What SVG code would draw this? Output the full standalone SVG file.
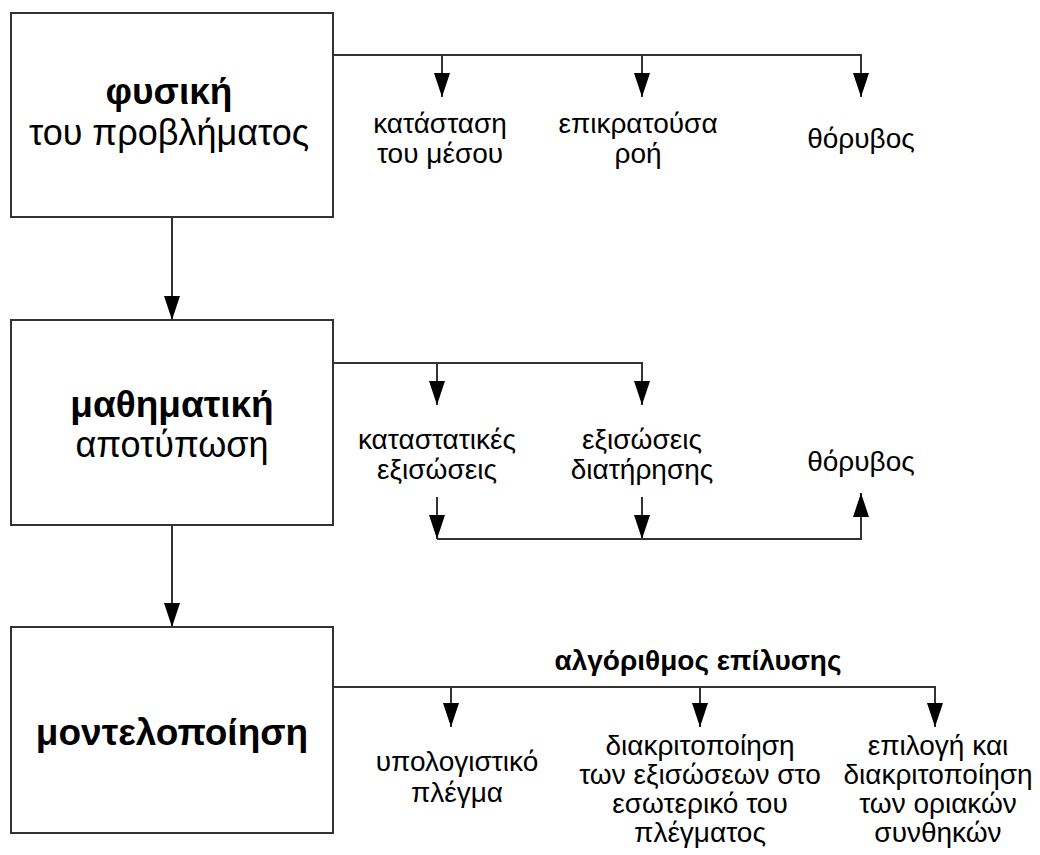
<svg xmlns="http://www.w3.org/2000/svg" width="1040" height="855" viewBox="0 0 1040 855">
  <defs>
    <style>
      .box { fill: #ffffff; stroke: #333333; stroke-width: 2; }
      .wire { fill: none; stroke: #333333; stroke-width: 2; }
      .main { font-family: "Liberation Sans", Arial, sans-serif; font-size: 36px; fill: #000000; text-anchor: middle; }
      .main.b { font-size: 37px; font-weight: bold; }
      .lbl { font-family: "Liberation Sans", Arial, sans-serif; font-size: 28px; fill: #000000; text-anchor: middle; }
      .lbl.b { font-weight: bold; }
    </style>
    <marker id="tri" viewBox="0 0 24 16" refX="24" refY="8" markerWidth="24" markerHeight="16" markerUnits="userSpaceOnUse" orient="auto">
      <path d="M0,0 L24,8 L0,16 Z" fill="#000000"/>
    </marker>
  </defs>

  <rect width="1040" height="855" fill="#ffffff"/>

  <!-- connectors -->
  <g id="connectors">
    <!-- stage to stage -->
    <line class="wire" x1="172" y1="217" x2="172" y2="320" marker-end="url(#tri)"/>
    <line class="wire" x1="172" y1="525" x2="172" y2="627" marker-end="url(#tri)"/>

    <!-- physics branches -->
    <polyline class="wire" points="333,55 861,55 861,97" marker-end="url(#tri)"/>
    <line class="wire" x1="442" y1="55" x2="442" y2="97" marker-end="url(#tri)"/>
    <line class="wire" x1="642" y1="55" x2="642" y2="97" marker-end="url(#tri)"/>

    <!-- mathematical model branches -->
    <polyline class="wire" points="333,363 642,363 642,405" marker-end="url(#tri)"/>
    <line class="wire" x1="437" y1="363" x2="437" y2="405" marker-end="url(#tri)"/>
    <line class="wire" x1="437" y1="497" x2="437" y2="539" marker-end="url(#tri)"/>
    <line class="wire" x1="642" y1="497" x2="642" y2="539" marker-end="url(#tri)"/>
    <polyline class="wire" points="437,539 861,539 861,493" marker-end="url(#tri)"/>

    <!-- modelling branches -->
    <polyline class="wire" points="333,687 935,687 935,727" marker-end="url(#tri)"/>
    <line class="wire" x1="451" y1="687" x2="451" y2="727" marker-end="url(#tri)"/>
    <line class="wire" x1="700" y1="687" x2="700" y2="727" marker-end="url(#tri)"/>
  </g>

  <!-- stage boxes -->
  <g id="physics">
    <rect class="box" x="11" y="13" width="322" height="204"/>
    <text class="main b" x="169" y="104">φυσική</text>
    <text class="main" x="169" y="145">του προβλήματος</text>
  </g>
  <g id="math-model">
    <rect class="box" x="11" y="320" width="322" height="205"/>
    <text class="main b" x="172" y="417">μαθηματική</text>
    <text class="main" x="172" y="457">αποτύπωση</text>
  </g>
  <g id="modelling">
    <rect class="box" x="11" y="627" width="322" height="206"/>
    <text class="main b" x="172" y="745">μοντελοποίηση</text>
  </g>

  <!-- physics items -->
  <g id="medium-state">
    <text class="lbl" x="440" y="133">κατάσταση</text>
    <text class="lbl" x="440" y="163">του μέσου</text>
  </g>
  <g id="main-flow">
    <text class="lbl" x="638" y="133">επικρατούσα</text>
    <text class="lbl" x="638" y="163">ροή</text>
  </g>
  <g id="noise-1">
    <text class="lbl" x="861" y="148">θόρυβος</text>
  </g>

  <!-- mathematical model items -->
  <g id="constitutive">
    <text class="lbl" x="437" y="449">καταστατικές</text>
    <text class="lbl" x="437" y="479">εξισώσεις</text>
  </g>
  <g id="conservation">
    <text class="lbl" x="642" y="449">εξισώσεις</text>
    <text class="lbl" x="642" y="479">διατήρησης</text>
  </g>
  <g id="noise-2">
    <text class="lbl" x="861" y="471">θόρυβος</text>
  </g>

  <!-- modelling items -->
  <g id="solver">
    <text class="lbl b" x="698" y="670">αλγόριθμος επίλυσης</text>
  </g>
  <g id="grid">
    <text class="lbl" x="457" y="771">υπολογιστικό</text>
    <text class="lbl" x="457" y="802">πλέγμα</text>
  </g>
  <g id="interior-discretisation">
    <text class="lbl" x="700" y="755">διακριτοποίηση</text>
    <text class="lbl" x="700" y="784">των εξισώσεων στο</text>
    <text class="lbl" x="700" y="813">εσωτερικό του</text>
    <text class="lbl" x="700" y="842">πλέγματος</text>
  </g>
  <g id="boundary-conditions">
    <text class="lbl" x="938" y="755">επιλογή και</text>
    <text class="lbl" x="938" y="784">διακριτοποίηση</text>
    <text class="lbl" x="938" y="813">των οριακών</text>
    <text class="lbl" x="938" y="842">συνθηκών</text>
  </g>
</svg>
